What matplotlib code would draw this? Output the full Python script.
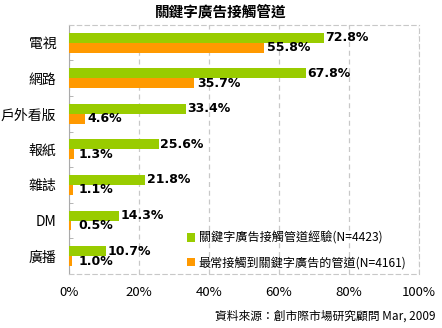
import matplotlib
matplotlib.use("Agg")
import matplotlib.pyplot as plt
import numpy as np

plt.rcParams['font.family'] = ['Noto Sans CJK TC', 'DejaVu Sans']

categories = ["電視", "網路", "戶外看版", "報紙", "雜誌", "DM", "廣播"]
experience = [72.8, 67.8, 33.4, 25.6, 21.8, 14.3, 10.7]
most_often = [55.8, 35.7, 4.6, 1.3, 1.1, 0.5, 1.0]
series_names = ["關鍵字廣告接觸管道經驗(N=4423)", "最常接觸到關鍵字廣告的管道(N=4161)"]

GREEN = "#99CC00"
ORANGE = "#FF9900"

fig = plt.figure(figsize=(4.42, 3.28), dpi=100)
ax = fig.add_axes([0.156, 0.165, 0.792, 0.759])

y = np.arange(len(categories))
h = 0.28
ax.barh(y - h / 2, experience, height=h, color=GREEN, label=series_names[0], zorder=3)
ax.barh(y + h / 2, most_often, height=h, color=ORANGE, label=series_names[1], zorder=3)

for yi, v in zip(y, experience):
    ax.text(v + 0.4, yi - h / 2, f"{v}%", va="center", ha="left", fontsize=9,
            fontweight="bold", family="DejaVu Sans", zorder=4)
for yi, v in zip(y, most_often):
    ax.text(v + 0.8 if v > 3 else 2.8, yi + h / 2, f"{v}%", va="center", ha="left", fontsize=9,
            fontweight="bold", family="DejaVu Sans", zorder=4)

ax.set_xlim(0, 100)
ax.set_ylim(len(categories) - 0.5, -0.5)
ax.set_xticks([0, 20, 40, 60, 80, 100])
ax.set_xticklabels([f"{t}%" for t in [0, 20, 40, 60, 80, 100]], fontsize=9.5)
ax.set_yticks(y)
ax.set_yticklabels(categories, fontsize=10)
ax.set_yticks(np.arange(len(categories) + 1) - 0.5, minor=True)
ax.tick_params(axis="y", which="major", length=0, pad=9)
ax.tick_params(axis="y", which="minor", length=3, color="#aaaaaa", direction="in")
ax.tick_params(axis="x", length=0, pad=9)

ax.grid(axis="x", color="#c8c8c8", linestyle=(0, (4, 3)), linewidth=0.9, zorder=0)
for side in ["top", "right", "bottom"]:
    ax.spines[side].set_color("#c8c8c8")
    ax.spines[side].set_linestyle((0, (4, 3)))
ax.spines["left"].set_color("#aaaaaa")

ax.legend(loc="lower right", bbox_to_anchor=(0.995, -0.025), frameon=False, fontsize=8.7,
          handlelength=0.7, handleheight=0.7, handletextpad=0.3, labelspacing=0.95)

fig.suptitle("關鍵字廣告接觸管道", x=0.5, y=0.99, fontsize=10.5, fontweight="bold")
fig.text(0.985, 0.015, "資料來源：創市際市場研究顧問 Mar, 2009", ha="right", va="bottom", fontsize=8.5)

fig.savefig("out.png", dpi=100)
